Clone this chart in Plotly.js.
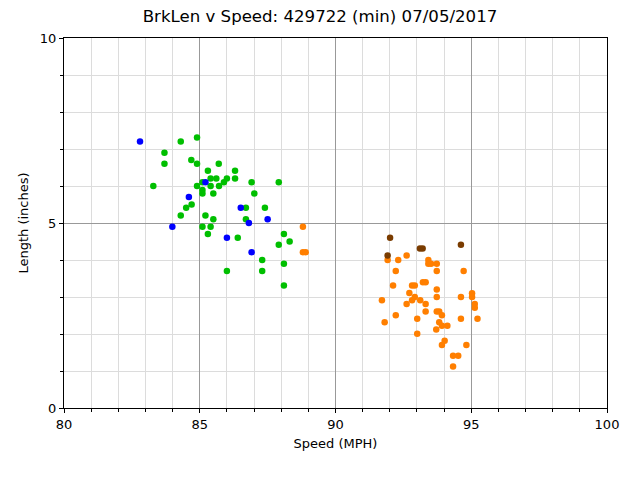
<!DOCTYPE html>
<html>
<head>
<meta charset="utf-8">
<script src="https://cdn.plot.ly/plotly-3.0.1.min.js"></script>
<style>
  html, body { margin: 0; padding: 0; background: #fff; }
  #chart { width: 640px; height: 480px; }
</style>
</head>
<body>
<div id="chart"></div>
<script>
// Speed (MPH) vs brake length (inches), grouped by colour
const blueSpeed = [82.80, 85.21, 84.60, 86.51, 86.81, 87.50, 83.99, 86.00, 86.91];
const blueLen   = [7.20, 6.10, 5.70, 5.41, 5.00, 5.10, 4.90, 4.60, 4.21];

const greenSpeed = [84.30, 84.90, 83.70, 83.70, 84.69, 84.90, 85.70, 85.30, 86.30,
  85.40, 85.61, 86.00, 85.89, 86.30, 85.10, 86.91, 87.91, 83.29, 84.90, 85.10,
  85.10, 85.40, 85.71, 85.50, 87.01, 84.70, 84.50, 84.30, 86.70, 87.40, 85.21,
  85.50, 86.70, 85.10, 85.40, 85.30, 86.40, 88.10, 88.31, 87.91, 87.30, 88.10,
  86.00, 87.30, 88.10];
const greenLen = [7.20, 7.31, 6.90, 6.60, 6.70, 6.60, 6.60, 6.41, 6.41,
  6.20, 6.20, 6.20, 6.10, 6.20, 6.10, 6.10, 6.10, 6.00, 6.00, 5.89,
  5.80, 6.00, 6.00, 5.80, 5.80, 5.50, 5.41, 5.20, 5.41, 5.41, 5.20,
  5.10, 5.10, 4.90, 4.90, 4.70, 4.60, 4.70, 4.50, 4.41, 4.00, 3.90,
  3.70, 3.70, 3.31];

const orangeSpeed = [88.80, 88.80, 88.90, 91.92, 92.62, 92.31, 92.22, 93.42, 93.42,
  93.52, 93.73, 93.73, 94.72, 92.12, 92.82, 92.92, 93.22, 93.32, 93.73, 93.73,
  92.72, 92.92, 92.82, 93.12, 91.71, 92.62, 93.32, 94.62, 95.03, 95.03, 95.13,
  95.13, 93.32, 93.73, 93.82, 93.92, 92.22, 91.81, 93.01, 93.82, 93.92, 94.12,
  93.71, 94.62, 95.23, 93.01, 94.02, 93.92, 94.82, 94.33, 94.52, 94.33];
const orangeLen = [4.90, 4.21, 4.21, 4.00, 4.12, 4.00, 3.70, 4.00, 3.90,
  3.90, 3.90, 3.70, 3.70, 3.31, 3.31, 3.31, 3.40, 3.40, 3.20, 3.00,
  3.11, 3.00, 2.91, 2.91, 2.91, 2.81, 2.81, 3.00, 3.10, 3.00, 2.81,
  2.71, 2.61, 2.61, 2.61, 2.51, 2.51, 2.32, 2.41, 2.32, 2.22, 2.22,
  2.12, 2.41, 2.41, 2.01, 1.82, 1.70, 1.70, 1.41, 1.41, 1.12];

const brownSpeed = [92.01, 91.92, 93.11, 93.21, 94.62];
const brownLen   = [4.60, 4.12, 4.31, 4.31, 4.41];

const groups = [
  { x: greenSpeed, y: greenLen, color: '#00bf00' },
  { x: blueSpeed, y: blueLen, color: '#0000ff' },
  { x: orangeSpeed, y: orangeLen, color: '#ff7f00' },
  { x: brownSpeed, y: brownLen, color: '#7a3c00' }
];

const traces = groups.map(g => ({
  x: g.x,
  y: g.y,
  type: 'scatter',
  mode: 'markers',
  marker: { color: g.color, size: 6.5 },
  hoverinfo: 'x+y'
}));

const axisBase = {
  showline: true,
  linecolor: '#000',
  linewidth: 1.2,
  mirror: true,
  ticks: 'outside',
  ticklen: 4,
  tickcolor: '#000',
  showgrid: true,
  gridcolor: '#999999',
  gridwidth: 1,
  zeroline: false,
  tickfont: { size: 13, color: '#000' },
  minor: {
    dtick: 1,
    showgrid: true,
    gridcolor: '#dcdcdc',
    gridwidth: 1,
    ticks: 'outside',
    ticklen: 3,
    tickcolor: '#000'
  }
};

const layout = {
  width: 640,
  height: 480,
  paper_bgcolor: '#fff',
  plot_bgcolor: '#fff',
  font: { family: 'DejaVu Sans, sans-serif', color: '#000', size: 13 },
  showlegend: false,
  margin: { l: 64, r: 33, t: 38, b: 72 },
  title: {
    text: 'BrkLen v Speed: 429722 (min) 07/05/2017',
    font: { size: 16.6 },
    x: 0.5,
    xanchor: 'center',
    y: 0.978,
    yanchor: 'top'
  },
  xaxis: Object.assign({}, axisBase, {
    range: [80, 100],
    dtick: 5,
    title: { text: 'Speed (MPH)', font: { size: 13 }, standoff: 8 }
  }),
  yaxis: Object.assign({}, axisBase, {
    range: [0, 10],
    dtick: 5,
    title: { text: 'Length (inches)', font: { size: 13 }, standoff: 8 }
  })
};

Plotly.newPlot('chart', traces, layout, { displayModeBar: false, staticPlot: true });
</script>
</body>
</html>
